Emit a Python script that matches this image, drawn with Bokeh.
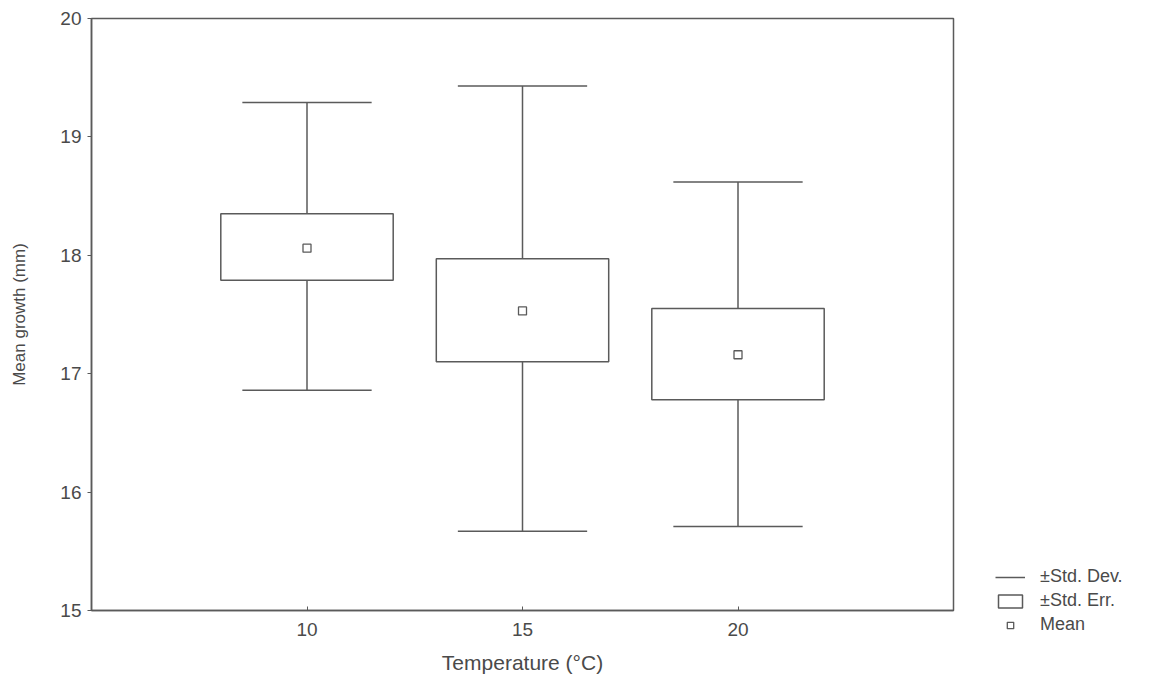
from bokeh.plotting import figure
from bokeh.models import Range1d, ColumnDataSource, Legend, LegendItem, FixedTicker
from bokeh.embed import file_html
from bokeh.resources import INLINE

# ---- data ----
temps = [10, 15, 20]
means = [18.06, 17.53, 17.16]
se_low = [17.79, 17.10, 16.78]
se_high = [18.35, 17.97, 17.55]
sd_low = [16.86, 15.67, 15.71]
sd_high = [19.29, 19.43, 18.62]
x_ticks = [10, 15, 20]
y_ticks = [15, 16, 17, 18, 19, 20]

# ---- style ----
INK = "#5a5a5a"
TXT = "#4a4a4a"
FONT = "Liberation Sans"
BOX_W = 4.0      # box width in x units
CAP_HALF = 1.5   # half width of whisker caps in x units

src = ColumnDataSource(dict(
    x=temps, mean=means, se_low=se_low, se_high=se_high,
    sd_low=sd_low, sd_high=sd_high,
    cap_l=[t - CAP_HALF for t in temps], cap_r=[t + CAP_HALF for t in temps],
))

p = figure(frame_width=862, frame_height=592,
           x_range=Range1d(5, 25), y_range=Range1d(15, 20),
           output_backend="svg", toolbar_location=None,
           min_border_left=91, min_border_right=200,
           min_border_top=18, min_border_bottom=70)

p.background_fill_color = "white"
p.border_fill_color = "white"
p.outline_line_color = INK
p.outline_line_width = 1.5
p.xgrid.grid_line_color = None
p.ygrid.grid_line_color = None

# whisker stems and caps
r_stem = p.segment(x0="x", y0="sd_low", x1="x", y1="sd_high", source=src,
                   line_color=INK, line_width=1.5)
p.segment(x0="cap_l", y0="sd_low", x1="cap_r", y1="sd_low", source=src,
          line_color=INK, line_width=1.5)
p.segment(x0="cap_l", y0="sd_high", x1="cap_r", y1="sd_high", source=src,
          line_color=INK, line_width=1.5)

# standard error boxes
r_box = p.vbar(x="x", width=BOX_W, bottom="se_low", top="se_high", source=src,
               fill_color="white", line_color=INK, line_width=1.5)

# means
r_mean = p.scatter(x="x", y="mean", source=src, marker="square", size=8,
                   fill_color="white", line_color=INK, line_width=1.3)

# axes
p.xaxis.ticker = FixedTicker(ticks=x_ticks)
p.yaxis.ticker = FixedTicker(ticks=y_ticks)
for ax in (p.xaxis[0], p.yaxis[0]):
    ax.axis_line_color = INK
    ax.axis_line_width = 1.5
    ax.major_tick_line_color = INK
    ax.minor_tick_line_color = None
    ax.major_label_text_font = FONT
    ax.major_label_text_font_size = "19px"
    ax.major_label_text_color = TXT
    ax.axis_label_text_font = FONT
    ax.axis_label_text_font_style = "normal"
    ax.axis_label_text_color = TXT

p.xaxis.axis_label = "Temperature (°C)"
p.yaxis.axis_label = "Mean growth (mm)"
p.xaxis.axis_label_text_font_size = "21px"
p.yaxis.axis_label_text_font_size = "17px"
p.xaxis.major_tick_in = 4
p.xaxis.major_tick_out = 0
p.xaxis.major_label_standoff = 12
p.xaxis.axis_label_standoff = 12
p.yaxis.major_tick_in = 0
p.yaxis.major_tick_out = 4
p.yaxis.major_label_standoff = 6
p.yaxis.axis_label_standoff = 28

legend = Legend(
    items=[
        LegendItem(label="±Std. Dev.", renderers=[r_stem]),
        LegendItem(label="±Std. Err.", renderers=[r_box]),
        LegendItem(label="Mean", renderers=[r_mean]),
    ],
    location=(42, -25),
    border_line_color=None, background_fill_alpha=0,
    label_text_font=FONT, label_text_font_size="18px", label_text_color=TXT,
    glyph_width=30, glyph_height=16, spacing=3, label_standoff=15,
    padding=0, margin=0, label_height=20,
)
p.add_layout(legend, "right")

open("out.html", "w").write(file_html(p, INLINE))
